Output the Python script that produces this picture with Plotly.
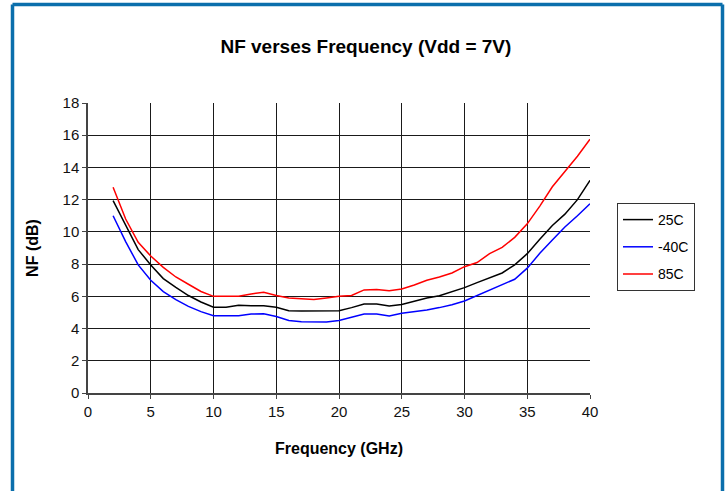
import plotly.graph_objects as go

freq = list(range(2, 41))
nf_25c = [11.94, 10.4, 8.9, 7.95, 7.1, 6.55, 6.05, 5.65, 5.32, 5.32, 5.45, 5.42, 5.42, 5.32,
          5.1, 5.09, 5.09, 5.09, 5.1, 5.3, 5.52, 5.52, 5.4, 5.5, 5.72, 5.9, 6.04, 6.3, 6.54,
          6.85, 7.15, 7.45, 7.95, 8.65, 9.55, 10.4, 11.1, 12.0, 13.2]
nf_m40c = [11.0, 9.4, 7.95, 7.0, 6.29, 5.8, 5.38, 5.05, 4.8, 4.8, 4.8, 4.9, 4.92, 4.75,
           4.5, 4.42, 4.41, 4.41, 4.5, 4.68, 4.9, 4.9, 4.78, 4.95, 5.05, 5.15, 5.3, 5.48, 5.71,
           6.05, 6.4, 6.7, 7.06, 7.75, 8.67, 9.5, 10.3, 11.0, 11.75]
nf_85c = [12.77, 10.8, 9.35, 8.5, 7.8, 7.2, 6.75, 6.3, 6.0, 6.0, 6.0, 6.15, 6.25, 6.05,
          5.9, 5.85, 5.8, 5.9, 6.0, 6.05, 6.4, 6.43, 6.35, 6.45, 6.7, 7.0, 7.2, 7.45, 7.84,
          8.1, 8.65, 9.04, 9.66, 10.5, 11.6, 12.8, 13.75, 14.7, 15.75]

series = [("25C", nf_25c, "#000000"), ("-40C", nf_m40c, "#0000ff"), ("85C", nf_85c, "#ff0000")]

FONT = "Liberation Sans, Arial, sans-serif"

fig = go.Figure()
for name, vals, color in series:
    fig.add_trace(go.Scatter(x=freq, y=vals, mode="lines", name=name, legendgroup=name,
                             line=dict(color=color, width=1.5)))

W, H = 726, 491
L, R, T, B = 88, 590, 103, 393
pw, ph = R - L, B - T

def px(x):
    return (x - L) / pw

def py(y):
    return (B - y) / ph

frame = "#0b6fac"
for x0, y0, x1, y1 in [(12.5, 4.5, 12.5, 520), (12.5, 4.5, 722.5, 4.5), (722.5, 4.5, 722.5, 520)]:
    fig.add_shape(type="line", xref="paper", yref="paper", x0=px(x0), y0=py(y0), x1=px(x1), y1=py(y1),
                  line=dict(color=frame, width=3.5), layer="above")

fig.update_layout(
    width=W, height=H,
    margin=dict(l=L, r=W - R, t=T, b=H - B, autoexpand=False),
    paper_bgcolor="white", plot_bgcolor="white",
    font=dict(family=FONT, size=15, color="#000000"),
    title=dict(text="<b>NF verses Frequency (Vdd = 7V)</b>", x=0.504, xref="container",
               y=1 - 46 / H, yref="container", yanchor="middle", xanchor="center",
               font=dict(size=19, family=FONT)),
    showlegend=True,
    legend=dict(x=px(617), y=py(203), xanchor="left", yanchor="top",
                bordercolor="#333333", borderwidth=1, bgcolor="white",
                font=dict(size=14, family=FONT), traceorder="grouped", tracegroupgap=6,
                itemwidth=30),
    xaxis=dict(range=[0, 40], tick0=0, dtick=5, showgrid=True, gridcolor="#1a1a1a", gridwidth=1,
               showline=True, linecolor="#444444", linewidth=1.5, ticks="outside", ticklen=4,
               tickcolor="#444444", zeroline=False, mirror=False,
               tickfont=dict(size=15, color="#111111"),
               title=dict(text="<b>Frequency (GHz)</b>", standoff=24, font=dict(size=16))),
    yaxis=dict(range=[0, 18], tick0=0, dtick=2, showgrid=True, gridcolor="#1a1a1a", gridwidth=1,
               showline=True, linecolor="#444444", linewidth=1.5, ticks="outside", ticklen=4,
               tickcolor="#444444", zeroline=False,
               tickfont=dict(size=15, color="#111111"),
               title=dict(text="<b>NF (dB)</b>", standoff=20, font=dict(size=16))),
)

fig.write_html("out.html", config={"displayModeBar": False},
               post_script="document.body.style.margin='0px';")
